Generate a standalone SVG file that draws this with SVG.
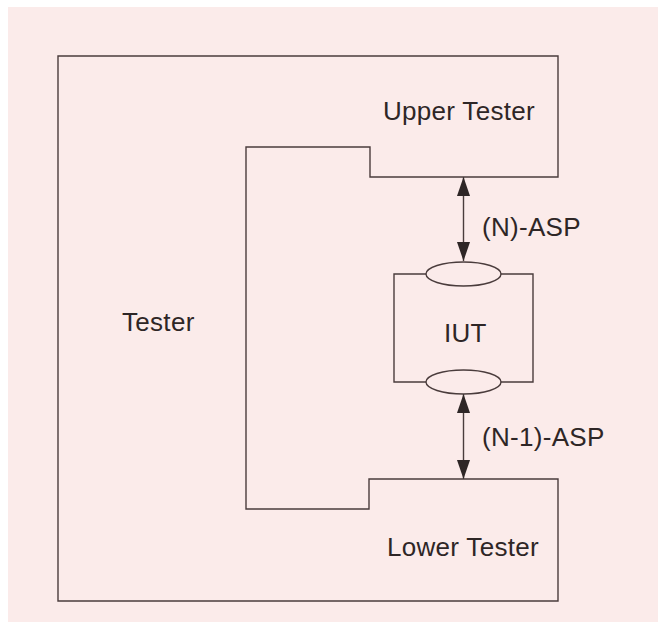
<svg xmlns="http://www.w3.org/2000/svg" width="658" height="622" viewBox="0 0 658 622">
<defs>
<style>
.ln{fill:none;stroke:#4a3c3c;stroke-width:1.4}
.t{font-family:"Liberation Sans",Arial,sans-serif;font-size:26px;letter-spacing:0.3px;fill:#2e2626}
</style>
<marker id="ah" viewBox="0 0 19 13" refX="19" refY="6.5" markerWidth="19" markerHeight="13" markerUnits="userSpaceOnUse" orient="auto-start-reverse">
<path d="M0,0 L19,6.5 L0,13 Z" fill="#2e2626"/>
</marker>
</defs>
<rect x="0" y="0" width="658" height="622" fill="#ffffff"/>
<rect x="8" y="7" width="650" height="615" fill="#fbebea"/>
<g id="tester">
<path class="ln" d="M58,56 H558 V177 H370 V147 H246 V509 H369 V479 H558 V601 H58 Z"/>
<text class="t" x="122" y="331">Tester</text>
</g>
<g id="upper-tester">
<text class="t" x="383" y="120">Upper Tester</text>
</g>
<g id="lower-tester">
<text class="t" x="387" y="556">Lower Tester</text>
</g>
<g id="iut">
<path class="ln" d="M426,274 H394 V382 H426 M501,274 H533 V382 H501"/>
<ellipse class="ln" cx="463.5" cy="274" rx="37.5" ry="12"/>
<ellipse class="ln" cx="463.5" cy="382" rx="37.5" ry="12"/>
<text class="t" x="444" y="342">IUT</text>
</g>
<g id="connectors">
<line class="ln" x1="463.5" y1="177" x2="463.5" y2="261" marker-start="url(#ah)" marker-end="url(#ah)"/>
<text class="t" x="482" y="236">(N)-ASP</text>
<line class="ln" x1="463.5" y1="394" x2="463.5" y2="479" marker-start="url(#ah)" marker-end="url(#ah)"/>
<text class="t" x="482" y="446">(N-1)-ASP</text>
</g>
</svg>
